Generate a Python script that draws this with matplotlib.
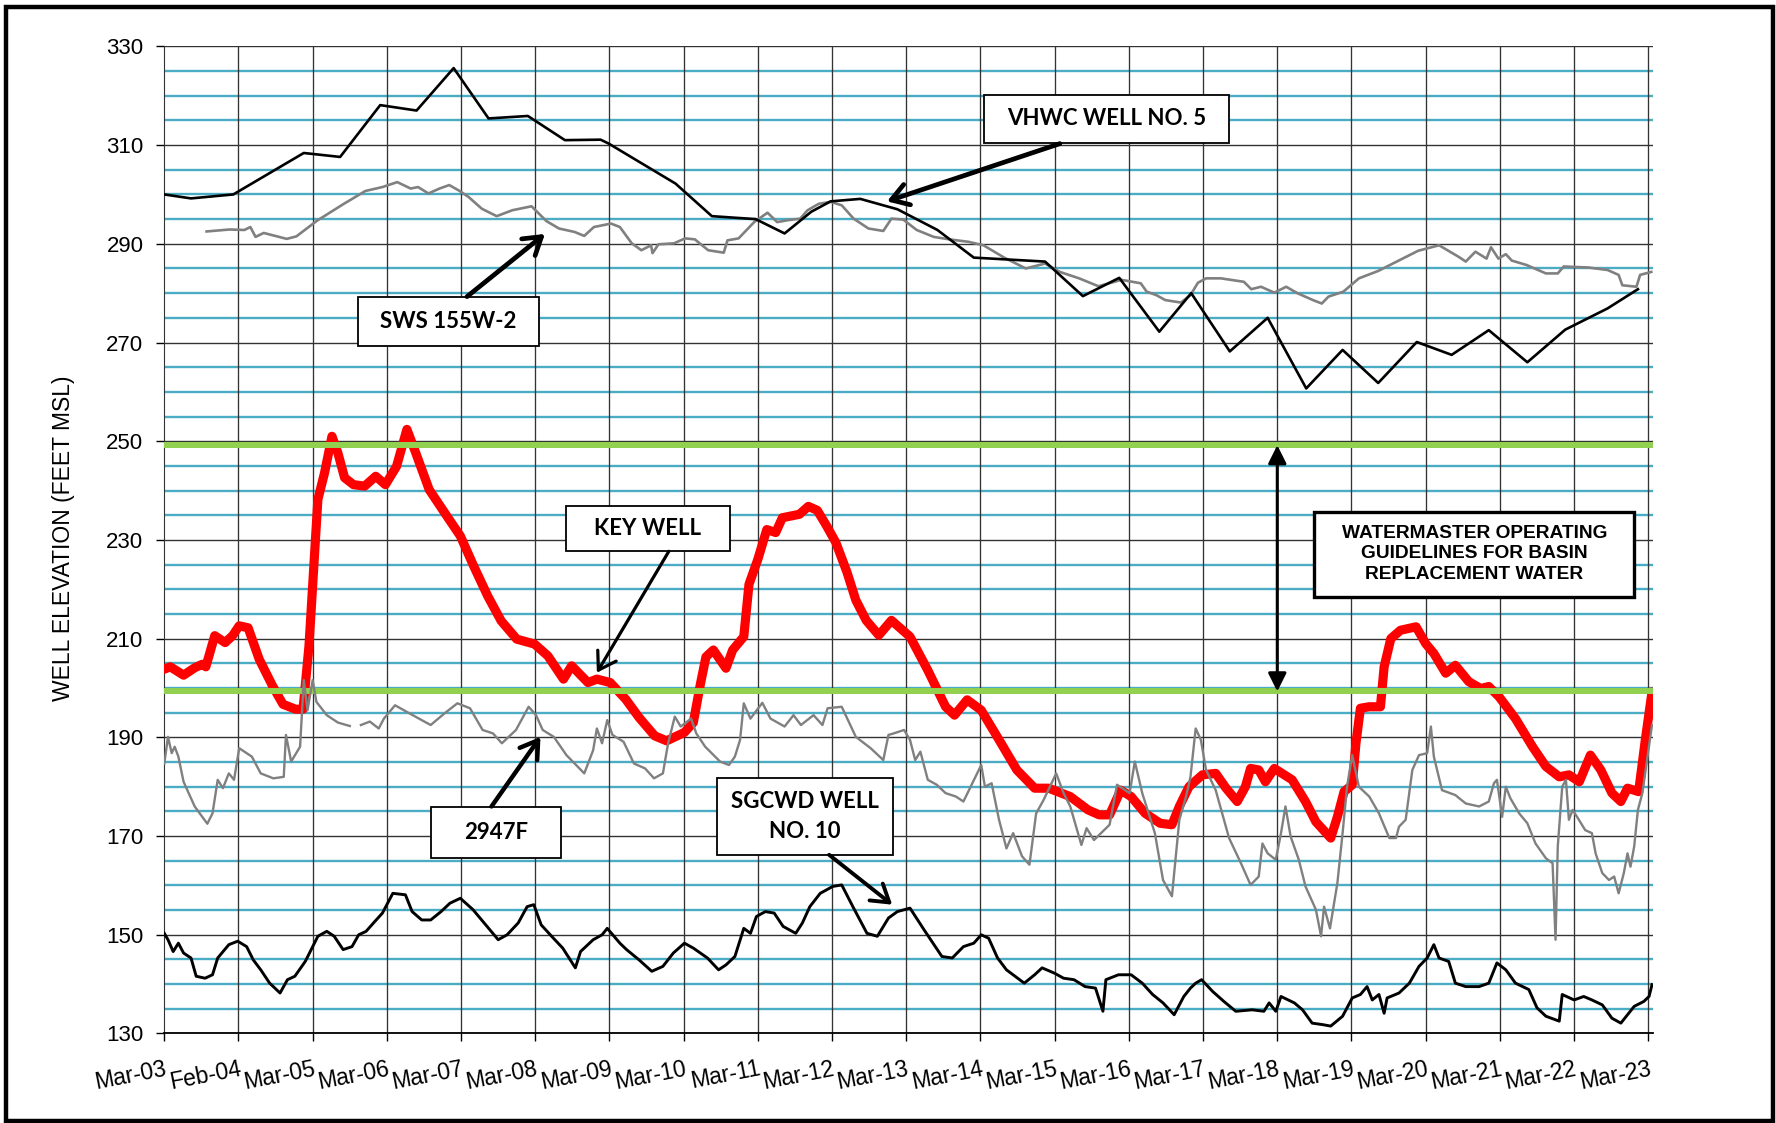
import matplotlib
matplotlib.use('Agg')
import matplotlib.pyplot as plt
from matplotlib.patches import Rectangle
import numpy as np

plt.rcParams['font.family'] = ['Liberation Sans', 'DejaVu Sans']

# x axis: years since March 2003, one label per year
tick_labels = ['Mar-03', 'Feb-04', 'Mar-05', 'Mar-06', 'Mar-07', 'Mar-08', 'Mar-09',
               'Mar-10', 'Mar-11', 'Mar-12', 'Mar-13', 'Mar-14', 'Mar-15', 'Mar-16',
               'Mar-17', 'Mar-18', 'Mar-19', 'Mar-20', 'Mar-21', 'Mar-22', 'Mar-23']

# VHWC Well No. 5
vhwc_x = [0, 0.36, 0.93, 1.88, 2.37, 2.91, 3.40, 3.90, 4.37, 4.90, 5.40, 5.88, 5.99, 6.89,
          7.38, 7.97, 8.36, 8.72, 8.98, 9.38, 9.88, 10.42, 10.91, 11.87, 12.38, 12.87,
          13.41, 13.84, 14.36, 14.87, 15.39, 15.88, 16.36, 16.88, 17.35, 17.85, 18.37,
          18.88, 19.45, 19.86]
vhwc_y = [300.0, 299.2, 300.0, 308.4, 307.6, 318.1, 317.0, 325.6, 315.4, 315.9, 311.0,
          311.1, 310.3, 302.2, 295.6, 295.0, 292.1, 296.5, 298.6, 299.1, 297.0, 292.8,
          287.2, 286.4, 279.4, 283.1, 272.2, 280.0, 268.2, 275.0, 260.7, 268.5, 261.8,
          270.1, 267.5, 272.5, 266.0, 272.6, 276.9, 280.8]

# SWS 155W-2
sws_x = [0.57, 0.88, 1.08, 1.16, 1.23, 1.34, 1.65, 1.78, 2.06, 2.42, 2.71, 2.94, 3.14,
         3.32, 3.42, 3.56, 3.71, 3.84, 3.97, 4.10, 4.28, 4.48, 4.69, 4.95, 5.15, 5.32,
         5.53, 5.66, 5.79, 6.02, 6.14, 6.30, 6.43, 6.56, 6.58, 6.66, 6.87, 7.02, 7.15,
         7.33, 7.54, 7.59, 7.74, 7.95, 8.13, 8.26, 8.41, 8.57, 8.67, 8.82, 8.98, 9.13,
         9.29, 9.49, 9.69, 9.80, 9.96, 10.14, 10.37, 10.58, 10.84, 11.04, 11.32, 11.61,
         11.87, 12.07, 12.33, 12.59, 12.90, 13.16, 13.24, 13.37, 13.49, 13.70, 13.83,
         13.93, 14.04, 14.24, 14.55, 14.65, 14.78, 14.96, 15.12, 15.27, 15.48, 15.60,
         15.69, 15.89, 16.10, 16.36, 16.61, 16.90, 17.18, 17.44, 17.54, 17.67, 17.82,
         17.88, 17.98, 18.08, 18.16, 18.36, 18.62, 18.78, 18.86, 19.19, 19.45, 19.60,
         19.65, 19.84, 19.89, 20.04]
sws_y = [292.5, 292.9, 292.8, 293.4, 291.4, 292.2, 291.0, 291.5, 294.7, 298.1, 300.7,
         301.5, 302.5, 301.2, 301.5, 300.2, 301.2, 301.9, 300.8, 299.5, 297.1, 295.6,
         296.8, 297.6, 294.6, 293.1, 292.4, 291.6, 293.4, 294.1, 293.4, 290.1, 288.7,
         289.7, 288.1, 289.9, 290.1, 291.1, 290.9, 288.7, 288.2, 290.7, 291.1, 294.4,
         296.3, 294.4, 294.8, 295.1, 296.8, 298.1, 298.5, 297.8, 295.1, 293.1, 292.6,
         295.1, 294.9, 292.8, 291.4, 290.9, 290.4, 289.7, 287.2, 285.0, 286.0, 284.3,
         283.0, 281.4, 282.7, 282.0, 280.3, 279.6, 278.6, 278.1, 279.6, 282.1, 283.0,
         283.0, 282.3, 280.8, 281.3, 280.1, 281.3, 280.0, 278.6, 277.9, 279.3, 280.3,
         283.0, 284.5, 286.4, 288.6, 289.7, 287.4, 286.4, 288.4, 287.0, 289.3, 287.0,
         287.9, 286.6, 285.7, 284.0, 284.0, 285.4, 285.2, 284.7, 283.7, 281.6, 281.3,
         283.7, 284.3]

# Key Well
key_x = [0, 0.08, 0.26, 0.41, 0.51, 0.56, 0.68, 0.82, 0.92, 1.01, 1.13, 1.28, 1.46, 1.60,
         1.77, 1.87, 1.95, 2.01, 2.07, 2.16, 2.26, 2.34, 2.43, 2.55, 2.70, 2.85, 2.98,
         3.13, 3.27, 3.39, 3.57, 3.81, 3.99, 4.17, 4.36, 4.54, 4.75, 4.99, 5.17, 5.38,
         5.49, 5.71, 5.83, 6.01, 6.22, 6.40, 6.61, 6.77, 7.01, 7.13, 7.22, 7.30, 7.40,
         7.57, 7.66, 7.81, 7.88, 8.00, 8.12, 8.24, 8.33, 8.56, 8.68, 8.80, 8.92, 9.05,
         9.20, 9.32, 9.46, 9.63, 9.80, 10.05, 10.29, 10.53, 10.65, 10.82, 11.01, 11.25,
         11.49, 11.73, 11.92, 12.21, 12.45, 12.60, 12.74, 12.89, 13.03, 13.22, 13.42,
         13.58, 13.68, 13.81, 13.99, 14.17, 14.31, 14.46, 14.57, 14.64, 14.75, 14.84,
         14.96, 15.20, 15.38, 15.52, 15.72, 15.81, 15.90, 16.01, 16.06, 16.12, 16.24,
         16.39, 16.44, 16.53, 16.66, 16.87, 17.00, 17.11, 17.27, 17.40, 17.58, 17.74,
         17.85, 17.99, 18.21, 18.44, 18.62, 18.80, 18.93, 19.07, 19.22, 19.36, 19.51,
         19.63, 19.72, 19.87, 19.96, 20.05]
key_y = [203.8, 204.3, 202.6, 204.1, 204.8, 204.3, 210.6, 209.2, 210.6, 212.6, 212.2,
         205.8, 200.4, 196.7, 195.7, 195.7, 208.5, 223.4, 238.2, 243.6, 251.0, 247.6,
         242.6, 241.2, 240.9, 242.9, 241.2, 244.9, 252.4, 247.6, 240.2, 234.8, 230.8,
         224.7, 218.6, 213.6, 209.9, 208.9, 206.5, 201.8, 204.5, 201.1, 201.8, 201.1,
         197.7, 194.0, 190.3, 189.3, 191.0, 193.0, 200.4, 206.3, 207.7, 204.0, 207.7,
         210.4, 221.0, 226.1, 232.1, 231.5, 234.5, 235.2, 236.8, 236.0, 233.0, 229.5,
         223.5, 217.8, 213.7, 210.7, 213.7, 210.4, 203.6, 196.2, 194.5, 197.6, 195.5,
         189.5, 183.4, 179.7, 179.7, 178.0, 175.3, 174.3, 174.3, 179.3, 178.0, 174.6,
         172.6, 172.3, 176.0, 180.0, 182.4, 182.7, 179.7, 177.0, 180.0, 183.7, 183.4,
         181.0, 183.7, 181.4, 177.0, 172.9, 169.6, 173.9, 179.0, 180.4, 188.8, 195.9,
         196.2, 196.2, 204.3, 210.0, 211.7, 212.4, 209.0, 207.0, 203.0, 204.6, 201.3,
         199.9, 200.3, 198.2, 193.8, 188.1, 184.1, 182.0, 182.4, 181.0, 186.4, 183.4,
         178.7, 177.0, 179.7, 179.0, 189.5, 199.2]

# 2947F (gap in record early 2005)
f2947_x = [0, 0.05, 0.10, 0.14, 0.19, 0.26, 0.41, 0.58, 0.65, 0.72, 0.79, 0.87, 0.94, 1.01,
           1.18, 1.30, 1.47, 1.61, 1.64, 1.71, 1.83, 1.88, 1.93, 2.00, 2.05, 2.19, 2.34,
           2.50, 2.57, 2.65, 2.77, 2.89, 2.96, 3.11, 3.30, 3.59, 3.78, 3.95, 4.12, 4.29,
           4.43, 4.55, 4.74, 4.91, 5.01, 5.10, 5.25, 5.42, 5.66, 5.78, 5.83, 5.90, 5.97,
           6.04, 6.19, 6.33, 6.48, 6.60, 6.72, 6.79, 6.88, 6.96, 7.10, 7.17, 7.29, 7.49,
           7.61, 7.69, 7.76, 7.81, 7.90, 8.06, 8.17, 8.36, 8.48, 8.58, 8.75, 8.87, 8.94,
           9.13, 9.32, 9.52, 9.69, 9.76, 9.83, 9.97, 10.05, 10.12, 10.19, 10.29, 10.41,
           10.53, 10.67, 10.77, 10.89, 11.01, 11.06, 11.15, 11.25, 11.35, 11.44, 11.56,
           11.66, 11.75, 11.85, 12.02, 12.12, 12.21, 12.36, 12.43, 12.53, 12.74, 12.84,
           13.01, 13.08, 13.18, 13.35, 13.46, 13.58, 13.68, 13.77, 13.83, 13.90, 13.97,
           14.04, 14.17, 14.35, 14.51, 14.64, 14.75, 14.80, 14.87, 14.98, 15.05, 15.11,
           15.18, 15.29, 15.38, 15.52, 15.59, 15.63, 15.71, 15.81, 15.88, 15.94, 16.01,
           16.10, 16.24, 16.37, 16.51, 16.60, 16.64, 16.73, 16.82, 16.91, 17.02, 17.07,
           17.11, 17.22, 17.40, 17.54, 17.72, 17.85, 17.92, 17.96, 18.03, 18.08, 18.14,
           18.26, 18.37, 18.48, 18.62, 18.71, 18.75, 18.78, 18.84, 18.89, 18.93, 18.98,
           19.04, 19.15, 19.24, 19.29, 19.38, 19.47, 19.54, 19.60, 19.67, 19.72, 19.76,
           19.81, 19.86, 19.92, 19.99, 20.05]
f2947_y = [184.7, 190.1, 186.8, 188.1, 186.1, 181.0, 176.0, 172.5, 174.6, 181.4, 179.7,
           182.7, 181.4, 187.8, 186.1, 182.7, 181.7, 182.0, 190.5, 185.1, 188.1, 201.6,
           195.5, 201.6, 197.2, 194.5, 193.0, 192.3, np.nan, 192.5, 193.2, 191.8, 193.8,
           196.5, 194.9, 192.5, 194.9, 196.9, 195.9, 191.5, 190.8, 188.8, 191.5, 196.2,
           194.5, 191.5, 190.1, 186.4, 182.7, 187.4, 191.8, 188.8, 193.5, 190.5, 189.1,
           184.7, 183.7, 181.7, 182.7, 188.8, 194.2, 192.2, 193.8, 190.8, 188.1, 185.1,
           184.4, 186.1, 189.5, 196.9, 193.8, 197.0, 193.8, 192.2, 194.5, 192.5, 194.5,
           192.5, 195.9, 196.2, 190.1, 187.8, 185.4, 190.5, 190.8, 191.5, 189.5, 185.4,
           187.1, 181.4, 180.4, 178.7, 178.0, 177.0, 180.7, 184.4, 180.0, 180.7, 173.3,
           167.5, 170.6, 165.9, 164.2, 174.6, 177.3, 182.7, 178.7, 176.0, 168.2, 171.6,
           169.2, 172.3, 180.4, 178.7, 185.1, 178.7, 170.6, 161.1, 157.8, 173.3, 178.0,
           182.0, 191.8, 189.5, 183.4, 179.3, 169.6, 164.5, 160.1, 161.8, 168.5, 166.5,
           165.2, 170.6, 176.0, 169.9, 165.2, 159.8, 155.1, 149.7, 155.7, 151.3, 160.5,
           170.6, 180.0, 186.4, 180.0, 178.0, 174.6, 169.6, 169.6, 171.9, 173.3, 183.4,
           186.4, 186.8, 192.2, 186.1, 179.3, 178.3, 176.6, 176.0, 177.0, 180.7, 181.4,
           173.9, 180.0, 177.7, 174.6, 172.6, 168.5, 165.5, 164.5, 149.0, 167.9, 180.0,
           181.4, 173.3, 175.3, 173.9, 171.2, 170.6, 166.5, 162.5, 161.1, 161.8, 158.4,
           162.5, 166.5, 163.8, 167.9, 175.3, 178.7, 186.1, 192.5]

# SGCWD Well No. 10
sgcwd_x = [0, 0.05, 0.12, 0.19, 0.26, 0.36, 0.43, 0.55, 0.65, 0.72, 0.87, 0.99, 1.11,
           1.20, 1.30, 1.42, 1.56, 1.66, 1.76, 1.90, 2.00, 2.07, 2.19, 2.29, 2.41, 2.53,
           2.62, 2.72, 2.82, 2.94, 3.08, 3.25, 3.34, 3.47, 3.59, 3.73, 3.85, 3.99, 4.16,
           4.31, 4.50, 4.62, 4.77, 4.89, 4.98, 5.08, 5.22, 5.37, 5.54, 5.61, 5.78, 5.90,
           5.97, 6.14, 6.23, 6.40, 6.57, 6.72, 6.86, 7.01, 7.13, 7.32, 7.47, 7.57, 7.69,
           7.81, 7.90, 7.98, 8.10, 8.22, 8.34, 8.51, 8.60, 8.70, 8.84, 9.01, 9.13, 9.28,
           9.47, 9.61, 9.76, 9.88, 10.05, 10.24, 10.48, 10.62, 10.77, 10.91, 11.01, 11.11,
           11.23, 11.35, 11.59, 11.73, 11.83, 12.00, 12.12, 12.26, 12.41, 12.55, 12.65,
           12.69, 12.86, 13.03, 13.18, 13.32, 13.46, 13.61, 13.74, 13.83, 13.90, 13.98,
           14.13, 14.28, 14.44, 14.66, 14.82, 14.89, 14.98, 15.05, 15.23, 15.34, 15.47,
           15.61, 15.72, 15.88, 16.01, 16.12, 16.21, 16.28, 16.37, 16.44, 16.48, 16.64,
           16.78, 16.91, 17.02, 17.11, 17.18, 17.31, 17.40, 17.54, 17.72, 17.85, 17.96,
           18.08, 18.21, 18.39, 18.50, 18.62, 18.80, 18.84, 19.00, 19.13, 19.24, 19.38,
           19.51, 19.63, 19.72, 19.81, 19.94, 20.01, 20.05]
sgcwd_y = [150.3, 149.0, 146.6, 148.3, 146.3, 145.3, 141.6, 141.2, 141.9, 145.3, 148.0,
           148.7, 147.6, 144.9, 142.9, 140.2, 138.2, 140.9, 141.6, 144.6, 147.6, 149.7,
           150.7, 149.7, 147.0, 147.6, 150.0, 150.7, 152.4, 154.4, 158.4, 158.1, 154.7,
           153.0, 153.0, 154.7, 156.4, 157.4, 155.1, 152.4, 149.0, 150.0, 152.4, 155.7,
           156.1, 152.0, 149.7, 147.3, 143.3, 146.6, 149.0, 150.0, 151.3, 148.3, 147.0,
           144.9, 142.6, 143.6, 146.3, 148.3, 147.3, 145.3, 142.9, 143.9, 145.6, 151.3,
           150.3, 153.7, 154.7, 154.4, 151.7, 150.3, 152.4, 155.7, 158.4, 159.8, 160.1,
           155.7, 150.3, 149.7, 153.4, 154.7, 155.4, 151.0, 145.6, 145.3, 147.6, 148.3,
           150.0, 149.3, 145.3, 142.9, 140.2, 141.9, 143.3, 142.2, 141.2, 140.9, 139.5,
           139.2, 134.5, 140.9, 141.9, 141.9, 140.2, 137.9, 136.2, 133.8, 137.5, 139.2,
           140.2, 140.9, 138.5, 136.5, 134.5, 134.8, 134.5, 136.2, 134.5, 137.5, 136.2,
           134.8, 132.1, 131.8, 131.5, 133.5, 137.2, 137.9, 139.5, 136.8, 137.9, 134.1,
           137.2, 138.2, 140.2, 143.6, 145.3, 148.0, 145.3, 144.6, 140.2, 139.5, 139.5,
           140.2, 144.3, 142.9, 140.2, 138.9, 135.2, 133.5, 132.5, 137.9, 136.8, 137.5,
           136.8, 135.8, 133.1, 132.1, 133.8, 135.5, 136.5, 137.5, 139.9]

# guideline band limits (ft MSL)
guide_upper = 249.2
guide_lower = 199.3

fig = plt.figure(figsize=(17.76, 11.23), dpi=100)
ax = fig.add_axes([0.0925, 0.0797, 0.8381, 0.879])
ax.set_xlim(0, 20.06)
ax.set_ylim(130, 330)

# horizontal grid: dark every 20 ft, teal every 5 ft
for v in range(130, 331, 5):
    if (v - 130) % 20 == 0:
        ax.axhline(v, color='#333333', lw=1.0, zorder=1)
    else:
        ax.axhline(v, color='#4bacc6', lw=1.7, zorder=1)
for yr in range(1, 21):
    ax.axvline(yr, color='#333333', lw=0.95, zorder=1)

# data series
ax.plot(key_x, key_y, color='#ff0000', lw=6.6, solid_joinstyle='round',
        solid_capstyle='round', zorder=3)
ax.axhline(guide_upper, color='#92d050', lw=4.3, zorder=4)
ax.axhline(guide_lower, color='#92d050', lw=4.3, zorder=4)
ax.plot(sws_x, sws_y, color='#808080', lw=1.9, zorder=5)
ax.plot(f2947_x, f2947_y, color='#808080', lw=1.7, zorder=5)
ax.plot(vhwc_x, vhwc_y, color='black', lw=1.9, zorder=5)
ax.plot(sgcwd_x, sgcwd_y, color='black', lw=2.1, zorder=5)

# axes styling
for s in ['top', 'right']:
    ax.spines[s].set_visible(False)
ax.spines['left'].set_color('#333333')
ax.spines['bottom'].set_color('black')
ax.spines['bottom'].set_linewidth(1.3)
ax.set_yticks(range(130, 331, 20))
ax.set_xticks(range(21))
ax.set_xticklabels(tick_labels, rotation=11, ha='right', va='top',
                   rotation_mode='anchor')
ax.tick_params(axis='y', direction='out', length=6, width=1, pad=9, labelsize=16)
ax.tick_params(axis='x', direction='out', length=6, width=1, pad=11, labelsize=16.5)

fig.text(0.036, 0.521, 'WELL ELEVATION (FEET MSL)', rotation=90, fontsize=16.5,
         ha='center', va='center')

# label boxes: (x0, x1, y0, y1, text)
label_boxes = [
    (11.05, 14.35, 310.5, 320.1, 'VHWC WELL NO. 5'),
    (2.61, 5.05, 269.3, 279.3, 'SWS 155W-2'),
    (5.41, 7.62, 227.8, 236.8, 'KEY WELL'),
    (3.60, 5.34, 165.5, 175.8, '2947F'),
    (7.45, 9.82, 166.2, 181.7, 'SGCWD WELL\nNO. 10'),
]
for x0, x1, y0, y1, txt in label_boxes:
    ax.add_patch(Rectangle((x0, y0), x1 - x0, y1 - y0, facecolor='white',
                           edgecolor='black', lw=1.3, zorder=8))
    ax.text((x0 + x1) / 2, (y0 + y1) / 2, txt, ha='center', va='center',
            fontsize=16, fontweight='bold', family=['Lato', 'DejaVu Sans'],
            linespacing=1.5, zorder=9)

ax.add_patch(Rectangle((15.50, 218.4), 4.31, 17.3, facecolor='white',
                       edgecolor='black', lw=2.4, zorder=8))
ax.text(17.655, 227.2, 'WATERMASTER OPERATING\nGUIDELINES FOR BASIN\nREPLACEMENT WATER',
        ha='center', va='center', fontsize=13.8, fontweight='bold',
        linespacing=1.25, zorder=9)

# pointer arrows: (tail, tip, width)
pointers = [
    ((12.07, 310.3), (9.74, 298.6), 3.4),
    ((4.08, 279.3), (5.13, 292.0), 3.4),
    ((6.80, 227.7), (5.83, 203.1), 2.3),
    ((4.41, 176.0), (5.07, 190.1), 3.2),
    ((8.96, 166.2), (9.81, 156.1), 2.8),
]
for tail, tip, w in pointers:
    ax.annotate('', xy=tip, xytext=tail,
                arrowprops=dict(arrowstyle='->,head_length=0.55,head_width=0.35',
                                lw=w, color='black', shrinkA=0, shrinkB=0,
                                mutation_scale=22),
                zorder=9)

ax.annotate('', xy=(15.0, guide_lower), xytext=(15.0, guide_upper),
            arrowprops=dict(arrowstyle='<|-|>,head_length=0.5,head_width=0.25',
                            lw=2.2, color='black', shrinkA=0, shrinkB=0,
                            mutation_scale=22),
            zorder=9)

fig.add_artist(Rectangle((0.0034, 0.0018), 0.995, 0.992, transform=fig.transFigure,
                         fill=False, lw=3.2, edgecolor='black'))

fig.savefig('out.png', dpi=100)
